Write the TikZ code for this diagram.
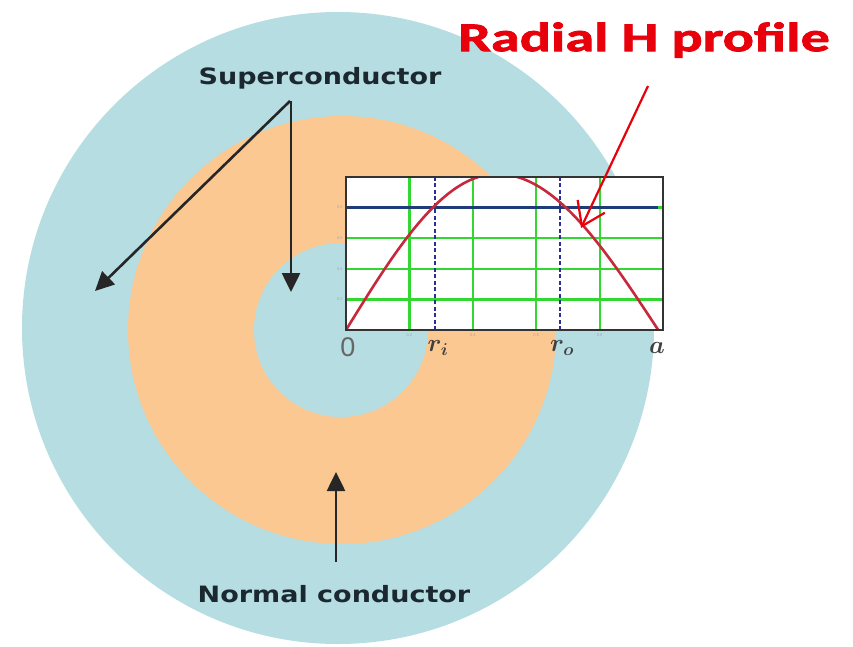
\documentclass[tikz,border=0pt]{standalone}
\usepackage{fontspec}
\usetikzlibrary{arrows.meta}
\newfontfamily\labfont[FakeStretch=1.2]{DejaVu Sans}
\newfontfamily\redfont[FakeStretch=1.42,FakeBold=2]{Carlito}
\newfontfamily\numfont{Liberation Sans}
\definecolor{sblue}{RGB}{181,221,226}
\definecolor{sorange}{RGB}{252,200,146}
\definecolor{gridgreen}{RGB}{50,215,50}
\definecolor{navy}{RGB}{30,60,120}
\definecolor{curvered}{RGB}{200,40,60}
\definecolor{dashblue}{RGB}{45,45,150}
\definecolor{labdark}{RGB}{28,40,48}
\definecolor{titlered}{RGB}{232,0,10}
\tikzset{
  blackarrow/.style={draw=black!85, line width=2.6pt, -{Triangle[length=19pt,width=18pt]}},
  redarrow/.style={draw=titlered, line width=2.2pt, -{Straight Barb[length=22pt,width=30pt,line width=2.2pt]}},
  darklabel/.style={font=\labfont\bfseries\fontsize{22.5}{26}\selectfont, text=labdark, inner sep=0pt},
  gridline/.style={draw=gridgreen, line width=2.2pt},
  ticklab/.style={font=\numfont\fontsize{4}{5}\selectfont, text=black!35, inner sep=0pt},
  axlab/.style={font=\fontsize{25}{27}\selectfont\boldmath, text=black!75, inner sep=0pt}
}
\begin{document}
\begin{tikzpicture}[x=1pt,y=-1pt]
\useasboundingbox (0,0) rectangle (853,647);
\fill[white] (0,0) rectangle (853,647);
% rings
\fill[sblue] (338,328) circle [radius=316pt];
\fill[sorange] (342,330) circle [radius=214pt];
\fill[sblue] (341,330) circle [radius=87pt];
% chart
\begin{scope}[shift={(346,330)}, x=317pt, y=153pt]
  \fill[white] (0,0) rectangle (1,1);
  \foreach \u in {0.2,0.4,0.6,0.8} \draw[gridline] (\u,0) -- (\u,1);
  \foreach \v in {0.2,0.4,0.6,0.8} \draw[gridline] (0,\v) -- (1,\v);
  \draw[dashblue, line width=2pt, dash pattern=on 4pt off 2.5pt] (0.282,0) -- (0.282,1);
  \draw[dashblue, line width=2pt, dash pattern=on 4pt off 2.5pt] (0.675,0) -- (0.675,1);
  \draw[navy, line width=3pt] (0,0.8) -- (0.985,0.8);
  \begin{scope}
    \clip (0,0) rectangle (1,1);
    \draw[curvered, line width=2.6pt]
      plot[domain=0:0.477, samples=50] (\x, {1.02*sin(90*\x/0.477)})
      -- plot[domain=0.477:0.985, samples=50] (\x, {1.02*sin(90*(0.985-\x)/0.508)});
  \end{scope}
  \draw[black!80, line width=1.8pt] (0,0) rectangle (1,1);
  \foreach \v in {0.2,0.4,0.6,0.8} \node[ticklab, anchor=east] at (-0.01,\v) {\v};
  \foreach \u in {0.2,0.4,0.6,0.8} \node[ticklab, anchor=north] at (\u,-0.02) {\u};
\end{scope}
% axis labels
\node[font=\numfont\fontsize{27}{28}\selectfont, text=black!60, inner sep=0pt] (zero) at (348,347) {0};
\node[axlab] (ri) at (438,348) {$r_i$};
\node[axlab] (ro) at (562,348) {$r_o$};
\node[axlab] (aa) at (657,348) {$a$};
% labels
\node[darklabel] (sup) at (320,78) {Superconductor};
\node[darklabel] (norm) at (334,594) {Normal conductor};
\node[font=\redfont\bfseries\fontsize{41}{44}\selectfont, text=titlered, inner sep=0pt] (title) at (644,40) {Radial H profile};
% arrows
\coordinate (s1) at (290,101);
\coordinate (s2) at (291,101);
\coordinate (t1) at (95,291);
\coordinate (t2) at (291,292);
\draw[blackarrow] (s1) -- (t1);
\draw[blackarrow] (s2) -- (t2);
\coordinate (n1) at (336,562);
\coordinate (n2) at (336,472);
\draw[blackarrow] (n1) -- (n2);
\coordinate (r1) at (648,86);
\coordinate (r2) at (581,228);
\draw[redarrow] (r1) -- (r2);
\end{tikzpicture}
\end{document}
